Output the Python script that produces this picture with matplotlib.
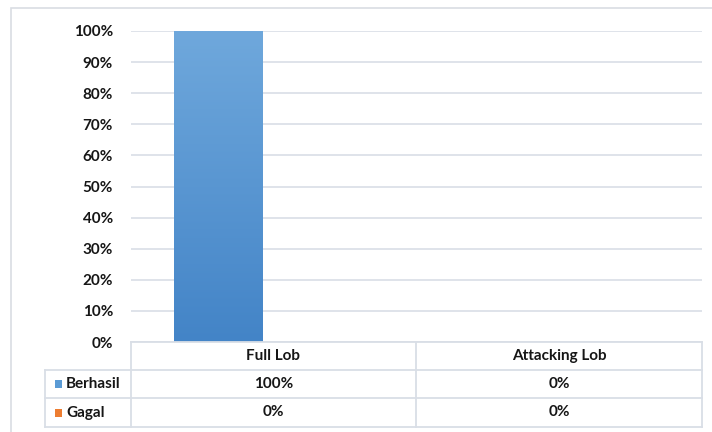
import matplotlib
matplotlib.use("Agg")
import matplotlib.pyplot as plt
import numpy as np
from matplotlib.patches import Rectangle
from matplotlib.lines import Line2D
from matplotlib.colors import LinearSegmentedColormap

categories = ["Full Lob", "Attacking Lob"]
series_names = ["Berhasil", "Gagal"]
berhasil = [1.00, 0.00]
gagal = [0.00, 0.00]
yticks = [0, 0.1, 0.2, 0.3, 0.4, 0.5, 0.6, 0.7, 0.8, 0.9, 1.0]

W, H = 712, 432
plt.rcParams['font.family'] = ['Lato', 'DejaVu Sans']
fig = plt.figure(figsize=(W / 100, H / 100), dpi=100)
FS = 11
TC = "#161616"

def fx(px):
    return px / W

def fy(py):
    return 1 - py / H

# chart frame
fig.add_artist(Rectangle((fx(11), fy(445)), fx(720) - fx(11), fy(8) - fy(445),
                         transform=fig.transFigure, fill=False,
                         edgecolor="#d9dde3", linewidth=1.2))

ax = fig.add_axes([fx(131), fy(342), fx(702) - fx(131), fy(31) - fy(342)])
ax.set_xlim(0, len(categories))
ax.set_ylim(0, 1)
for s in ax.spines.values():
    s.set_visible(False)
ax.set_xticks([])
ax.set_yticks(yticks)
ax.set_yticklabels([f"{int(round(v * 100))}%" for v in yticks],
                   fontweight="bold", fontsize=FS, color=TC)
ax.tick_params(axis="y", length=0, pad=13)
ax.grid(axis="y", color="#dfe3ea", linewidth=1.4)
ax.set_axisbelow(True)

x = np.arange(len(categories)) + 0.5
bw = 0.31
off = 0.193
bars1 = ax.bar(x - off, berhasil, width=bw, color="#5b9bd5", linewidth=0, zorder=2)
bars2 = ax.bar(x + off, gagal, width=bw, color="#ed7d31", linewidth=0, zorder=2)

cmap = LinearSegmentedColormap.from_list("g", ["#4384c7", "#6fa8dc"])
grad = np.linspace(0, 1, 256).reshape(-1, 1)
for b in bars1:
    h = b.get_height()
    if h > 0:
        im = ax.imshow(grad, cmap=cmap, origin="lower", aspect="auto",
                       extent=[b.get_x(), b.get_x() + b.get_width(), 0, h],
                       zorder=3)
        im.set_clip_path(b)
ax.set_xlim(0, len(categories))
ax.set_ylim(0, 1)

# data table
lc = "#d9dee6"
col_x = [131, 416, 702]
row_y = [342, 370, 398, 427]
leg_x = 45

def hline(x0, x1, y):
    fig.add_artist(Line2D([fx(x0), fx(x1)], [fy(y), fy(y)], transform=fig.transFigure,
                          color=lc, linewidth=1.3))

def vline(x, y0, y1):
    fig.add_artist(Line2D([fx(x), fx(x)], [fy(y0), fy(y1)], transform=fig.transFigure,
                          color=lc, linewidth=1.3))

hline(col_x[0], col_x[-1], row_y[0])
for y in row_y[1:]:
    hline(leg_x, col_x[-1], y)
for xx in col_x:
    vline(xx, row_y[0], row_y[-1])
vline(leg_x, row_y[1], row_y[-1])

for i, c in enumerate(categories):
    cx = (col_x[i] + col_x[i + 1]) / 2
    fig.text(fx(cx), fy((row_y[0] + row_y[1]) / 2), c, ha="center", va="center",
             fontweight="bold", fontsize=FS, color=TC)

colors = ["#5b9bd5", "#ed7d31"]
vals = [berhasil, gagal]
for r, name in enumerate(series_names):
    ymid = (row_y[r + 1] + row_y[r + 2]) / 2
    fig.add_artist(Rectangle((fx(55), fy(ymid + 4)), fx(7), fy(0) - fy(8),
                             transform=fig.transFigure, facecolor=colors[r],
                             edgecolor="none"))
    fig.text(fx(66), fy(ymid), name, ha="left", va="center",
             fontweight="bold", fontsize=FS, color=TC)
    for i in range(len(categories)):
        cx = (col_x[i] + col_x[i + 1]) / 2
        fig.text(fx(cx), fy(ymid), f"{int(round(vals[r][i] * 100))}%",
                 ha="center", va="center", fontweight="bold", fontsize=FS,
                 color=TC)

fig.savefig("out.png", dpi=100)
